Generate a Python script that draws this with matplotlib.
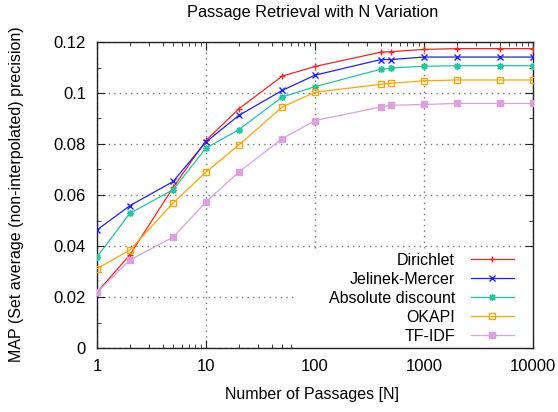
import numpy as np
import matplotlib
matplotlib.use("Agg")
import matplotlib.pyplot as plt
from matplotlib.patches import Rectangle
from matplotlib.ticker import FixedLocator, MultipleLocator, FormatStrFormatter, LogLocator, NullFormatter

plt.rcParams['font.family'] = ['Liberation Sans', 'DejaVu Sans']
plt.rcParams['font.size'] = 11.5

# number of passages N
n_passages = [1, 2, 5, 10, 20, 50, 100, 400, 500, 1000, 2000, 5000, 10000]

# MAP values
dirichlet = [0.0218, 0.0365, 0.0630, 0.0814, 0.0938, 0.1066, 0.1104,
             0.1160, 0.1162, 0.1171, 0.1174, 0.1174, 0.1174]
jelinek = [0.0463, 0.0558, 0.0653, 0.0808, 0.0912, 0.1010, 0.1070,
           0.1131, 0.1131, 0.1141, 0.1141, 0.1141, 0.1141]
absolute = [0.0357, 0.0528, 0.0621, 0.0784, 0.0856, 0.0984, 0.1025,
            0.1093, 0.1098, 0.1105, 0.1107, 0.1107, 0.1107]
okapi = [0.0311, 0.0384, 0.0569, 0.0690, 0.0796, 0.0945, 0.1003,
         0.1034, 0.1038, 0.1048, 0.1051, 0.1051, 0.1051]
tfidf = [0.0218, 0.0345, 0.0435, 0.0573, 0.0690, 0.0821, 0.0892,
         0.0945, 0.0952, 0.0955, 0.0959, 0.0959, 0.0959]

labels = ["Dirichlet", "Jelinek-Mercer", "Absolute discount", "OKAPI", "TF-IDF"]
series = [dirichlet, jelinek, absolute, okapi, tfidf]
colors = ["#ff2020", "#2020ff", "#20c8a0", "#ffa500", "#dda0dd"]
markers = ["+", "x", (8, 2, 0), "s", "s"]
filled = [True, True, True, False, True]

W, H = 558, 412
fig = plt.figure(figsize=(W / 100, H / 100), dpi=100)
# axes box in pixels: x 97..533, y 42..348
ax = fig.add_axes([97 / W, 1 - 348 / H, 436 / W, 306 / H])

for vals, lab, col, mk, fill in zip(series, labels, colors, markers, filled):
    ax.plot(n_passages, vals, color=col, lw=0.9, marker=mk, ms=5, mew=1,
            mfc=col if fill else "none", mec=col, label=lab, zorder=3)

ax.set_xscale("log")
ax.set_xlim(1, 10000)
ax.set_ylim(0, 0.12)
ax.xaxis.set_major_locator(FixedLocator([1, 10, 100, 1000, 10000]))
ax.xaxis.set_major_formatter(FormatStrFormatter("%g"))
ax.xaxis.set_minor_locator(LogLocator(base=10, subs=np.arange(2, 10)))
ax.xaxis.set_minor_formatter(NullFormatter())
ax.yaxis.set_major_locator(MultipleLocator(0.02))
ax.yaxis.set_minor_locator(MultipleLocator(0.01))
ax.yaxis.set_major_formatter(FormatStrFormatter("%g"))

ax.tick_params(which="both", direction="in", top=True, right=True, colors="#222222")
ax.tick_params(which="major", length=6, pad=8, labelcolor="black", labelsize=12)
ax.tick_params(which="minor", length=3)
for s in ax.spines.values():
    s.set_color("#222222")
    s.set_linewidth(1)

ax.grid(True, which="major", linestyle=(0, (1, 3)), color="#777777", lw=1, zorder=1)

# white key area hides the grid behind the legend
ax.add_patch(Rectangle(((297 - 97) / 436, 0), (533 - 297) / 436, (348 - 249) / 306,
                       transform=ax.transAxes, facecolor="white", edgecolor="none", zorder=2))

fig.text(312 / W, 1 - 395 / H, "Number of Passages [N]", ha="center", va="center")
fig.text(17 / W, 1 - 194 / H, "MAP (Set average (non-interpolated) precision)",
         ha="center", va="center", rotation=90)
fig.text(313 / W, 1 - 12 / H, "Passage Retrieval with N Variation",
         ha="center", va="center", fontsize=11.8)

leg = ax.legend(loc="lower right", bbox_to_anchor=((514 - 97) / 436, (348 - 344) / 306),
                markerfirst=False, frameon=False,
                handlelength=2.7, handletextpad=1.0, labelspacing=0.25,
                borderaxespad=0, borderpad=0)
leg.set_zorder(4)

fig.savefig("out.png", dpi=100)
